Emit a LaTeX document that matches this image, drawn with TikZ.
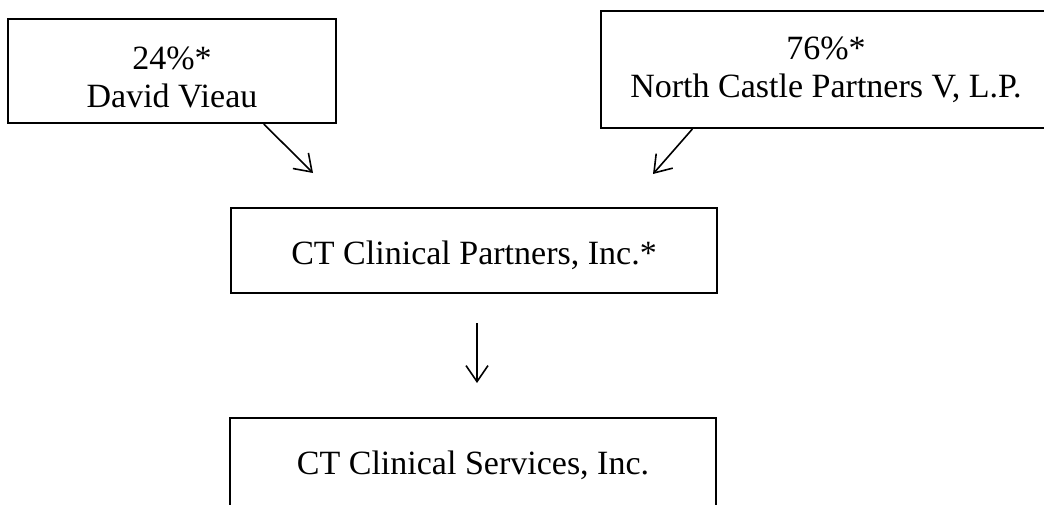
\documentclass[tikz,border=0pt]{standalone}
\usepackage{fontspec}
\setmainfont{Liberation Serif}
\usepackage{tikz}
\usetikzlibrary{arrows.meta}

\begin{document}
\begin{tikzpicture}
			[x=0.5pt,y=-0.5pt]
			\tikzstyle{every node}=[draw, line width=1pt, align=center, inner sep=0pt, font=\fontsize{17}{19}\selectfont]
			\tikzstyle{owns}=[-{Straight Barb[length=8pt,width=11pt]}, line width=0.8pt]
			\useasboundingbox (0,0) rectangle (1044,504);
			\clip (0,0) rectangle (1044,504);
			
			\node[minimum width=164pt, minimum height=52pt]  (dv) at (172,71) {\rule{0pt}{18pt}24\%*\\David Vieau};
			\node[minimum width=225pt, minimum height=58.5pt]  (nc) at (826,69.5) {76\%*\\North Castle Partners V, L.P.};
			\node[minimum width=243pt, minimum height=42.5pt, text height=17pt]  (cp) at (474,250.5) {CT Clinical Partners, Inc.*};
			\node[minimum width=243pt, minimum height=47pt]  (cs) at (473,465) {CT Clinical Services, Inc.};
			
			\coordinate (dvend) at (313,173);
			\coordinate (ncend) at (653,174);
			\coordinate (cptop) at (477,323);
			\coordinate (cpend) at (477,383);
			
			\draw[owns] (dv.-30) -- (dvend);
			\draw[owns] (nc.-156) -- (ncend);
			\draw[owns] (cptop) -- (cpend);
		\end{tikzpicture}
\end{document}
